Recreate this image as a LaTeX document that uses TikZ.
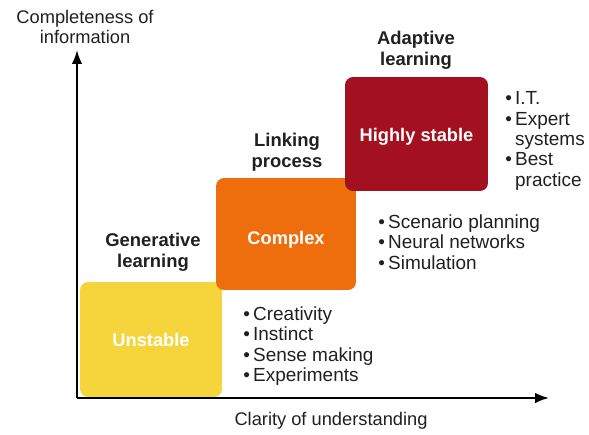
\documentclass[tikz,border=0pt]{standalone}
\usepackage{fontspec}
\setmainfont{Liberation Sans}
\usetikzlibrary{arrows.meta,positioning}

\definecolor{yellowbox}{HTML}{F6D43C}
\definecolor{orangebox}{HTML}{EE6E0E}
\definecolor{redbox}{HTML}{A3101F}
\definecolor{inktext}{HTML}{202020}

\begin{document}
\begin{tikzpicture}[>=Latex,x=0.02cm,y=-0.02cm,
  stage/.style={rounded corners=0.16cm,inner sep=0pt},
  stagetext/.style={text=white,font=\fontsize{10.4}{12}\selectfont\bfseries},
  head/.style={align=center,text=inktext,
    font=\fontsize{10.5}{11.9}\selectfont\bfseries},
  items/.style={align=left,anchor=west,inner sep=0pt,text=inktext,
    font=\fontsize{10.8}{11.6}\selectfont},
  axislabel/.style={align=center,text=inktext,
    font=\fontsize{10.4}{10.9}\selectfont}]
  % Canvas
  \useasboundingbox (0,0) rectangle (589,434);

  % Coordinates
  \coordinate (O) at (77,398);   % origin
  \coordinate (Ytop) at (77,50);  % top of vertical axis
  \coordinate (Xend) at (549,398); % end of horizontal axis

  % Stages (drawn bottom-left first)
  \node[stage,fill=yellowbox,minimum width=2.84cm,minimum height=2.3cm]
    (unstable) at (151,339.5) {};
  \node[stage,fill=orangebox,minimum width=2.8cm,minimum height=2.24cm]
    (complex) at (286,234) {};
  \node[stage,fill=redbox,minimum width=2.86cm,minimum height=2.28cm]
    (stable) at (416.5,134) {};
  \node[stagetext] (unstabletext) at (unstable.center) {Unstable};
  \node[stagetext] (complextext) at ([yshift=-0.12cm]complex.center) {Complex};
  \node[stagetext] (stabletext) at ([yshift=-0.06cm]stable.center) {Highly stable};

  % Axes
  \draw[line width=1.1pt,->] (O) -- (Ytop);
  \draw[line width=1.1pt,->] (O) -- (Xend);
  \node[axislabel] (ylabel) at (85,27) {Completeness of\\information};
  \node[axislabel] (xlabel) at (331,421) {Clarity of understanding};

  % Stage headings
  \node[head] (generative) at (153,252) {Generative\\learning};
  \node[head] (linking) at (287,152) {Linking\\process};
  \node[head] (adaptive) at (416,50) {Adaptive\\learning};

  % Bullet lists
  \node[items] (yellowlist) at (243,346)
    {\textbullet\,Creativity\\\textbullet\,Instinct\\\textbullet\,Sense making\\\textbullet\,Experiments};
  \node[items] (orangelist) at (378,242)
    {\textbullet\,Scenario planning\\\textbullet\,Neural networks\\\textbullet\,Simulation};
  \node[items] (redlist) at (505,141)
    {\textbullet\,I.T.\\\textbullet\,Expert\\\phantom{\textbullet\,}systems\\\textbullet\,Best\\\phantom{\textbullet\,}practice};

\end{tikzpicture}
\end{document}
